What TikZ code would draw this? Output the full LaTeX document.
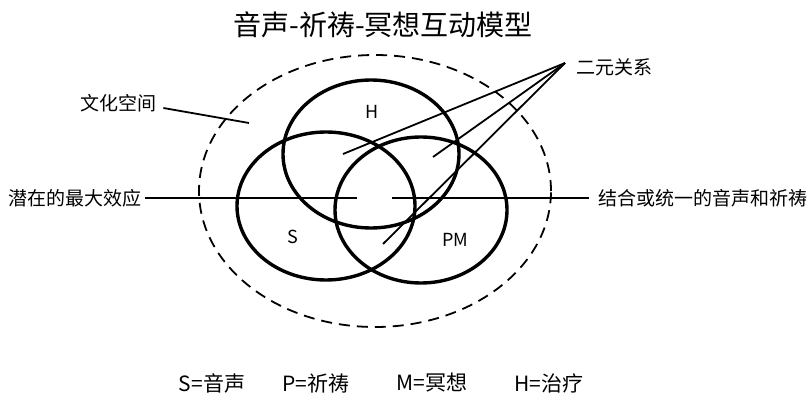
\documentclass[tikz,border=0pt]{standalone}
\usepackage{fontspec}
\setmainfont{Noto Sans CJK SC}
\usetikzlibrary{shapes.geometric}
\begin{document}
\begin{tikzpicture}[x=1pt,y=-1pt,
  venn/.style={draw, ellipse, line width=3.4pt, inner sep=0pt},
  lbl/.style={font=\fontsize{19}{19}\selectfont, inner sep=0pt},
  legend/.style={font=\fontsize{21}{21}\selectfont, inner sep=0pt},
  letter/.style={font=\fontsize{18}{18}\selectfont, inner sep=0pt},
  conn/.style={line width=1.8pt}]
\useasboundingbox (0,0) rectangle (808,401);
% title
\node[font=\fontsize{28}{28}\selectfont, inner sep=0pt] (title) at (383,25) {音声-祈祷-冥想互动模型};
% cultural space
\node[draw, ellipse, line width=1.8pt, dash pattern=on 11pt off 7pt, inner sep=0pt,
      minimum width=352pt, minimum height=272pt] (space) at (375,191) {};
% circles
\node[venn, minimum width=176pt, minimum height=148pt] (H) at (371,154) {};
\node[venn, minimum width=178pt, minimum height=148pt] (S) at (326,206) {};
\node[venn, minimum width=172pt, minimum height=146pt] (PM) at (421,210) {};
\node[letter] (Hl) at (372,112) {H};
\node[letter] (Sl) at (293,237) {S};
\node[letter] (PMl) at (455,240) {PM};
% labels
\node[lbl, anchor=west] (maxeff) at (8,198) {潜在的最大效应};
\node[lbl, anchor=west] (unity) at (598,198) {结合或统一的音声和祈祷};
\node[lbl, anchor=west] (culture) at (80,103) {文化空间};
\node[lbl, anchor=west] (dyad) at (576,67) {二元关系};
% connector endpoints
\coordinate (mL) at (357,198);
\coordinate (mR) at (392,198);
\coordinate (cS) at (249,123);
\coordinate (apex) at (565,63);
\coordinate (dHS) at (343,154);
\coordinate (dHP) at (433,157);
\coordinate (dSP) at (383,244);
% connectors
\draw[conn] (maxeff.east) ++(4,0) -- (mL);
\draw[conn] (mR) -- ([xshift=-9pt]unity.west);
\draw[conn] (culture.east) ++(7,5) -- (cS);
\draw[conn] (apex) -- (dHS);
\draw[conn] (apex) -- (dHP);
\draw[conn] (apex) -- (dSP);
% legend
\node[legend] (legS) at (212,383) {S=音声};
\node[legend] (legP) at (316,383) {P=祈祷};
\node[legend] (legM) at (432,383) {M=冥想};
\node[legend] (legH) at (549,383) {H=治疗};
\end{tikzpicture}
\end{document}
